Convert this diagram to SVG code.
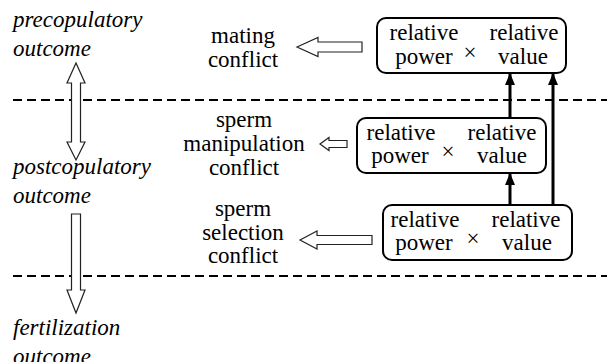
<svg xmlns="http://www.w3.org/2000/svg" id="d" width="607" height="362" viewBox="0 0 607 362">
<style>
svg#d text{font-family:"Liberation Serif","Times New Roman",serif !important;font-size:23px;fill:#000}
svg#d text.i{font-style:italic}
svg#d text.m{text-anchor:middle}
</style>
<defs>
<marker id="ah" markerUnits="userSpaceOnUse" markerWidth="12" markerHeight="10" refX="12" refY="5" orient="auto">
<path d="M0,0 L12,5 L0,10 z" fill="#000"/>
</marker>
</defs>
<rect width="607" height="362" fill="#fff"/>
<g id="dividers" stroke="#000" stroke-width="2" stroke-dasharray="9 5">
<line x1="13" y1="100" x2="607" y2="100"/>
<line x1="13" y1="276" x2="607" y2="276"/>
</g>
<g id="outcome-pre">
<text class="i" style="font-family:'Liberation Serif',serif !important" x="13" y="27">precopulatory</text>
<text class="i" style="font-family:'Liberation Serif',serif !important" x="13" y="56">outcome</text>
</g>
<g id="outcome-post">
<text class="i" style="font-family:'Liberation Serif',serif !important" x="13" y="174">postcopulatory</text>
<text class="i" style="font-family:'Liberation Serif',serif !important" x="13" y="203">outcome</text>
</g>
<g id="outcome-fert">
<text class="i" style="font-family:'Liberation Serif',serif !important" x="13" y="335">fertilization</text>
<text class="i" style="font-family:'Liberation Serif',serif !important" x="13" y="364">outcome</text>
</g>
<g id="label-mating">
<text class="m" style="font-family:'Liberation Serif',serif !important" x="243" y="43">mating</text>
<text class="m" style="font-family:'Liberation Serif',serif !important" x="243" y="67">conflict</text>
</g>
<g id="label-manip">
<text class="m" style="font-family:'Liberation Serif',serif !important" x="244" y="127">sperm</text>
<text class="m" style="font-family:'Liberation Serif',serif !important" x="244" y="151">manipulation</text>
<text class="m" style="font-family:'Liberation Serif',serif !important" x="244" y="175">conflict</text>
</g>
<g id="label-select">
<text class="m" style="font-family:'Liberation Serif',serif !important" x="243" y="216">sperm</text>
<text class="m" style="font-family:'Liberation Serif',serif !important" x="243" y="240">selection</text>
<text class="m" style="font-family:'Liberation Serif',serif !important" x="243" y="263">conflict</text>
</g>
<g id="box-top">
<rect x="377" y="18" width="189" height="55" rx="9" fill="#fff" stroke="#000" stroke-width="2"/>
<text class="m" style="font-family:'Liberation Serif',serif !important" x="424" y="40">relative</text>
<text class="m" style="font-family:'Liberation Serif',serif !important" x="424" y="64">power</text>
<text class="m" style="font-family:'Liberation Serif',serif !important" x="470" y="60">&#215;</text>
<text class="m" style="font-family:'Liberation Serif',serif !important" x="524" y="40">relative</text>
<text class="m" style="font-family:'Liberation Serif',serif !important" x="523" y="64">value</text>
</g>
<g id="box-mid">
<rect x="357" y="118" width="189" height="55" rx="9" fill="#fff" stroke="#000" stroke-width="2"/>
<text class="m" style="font-family:'Liberation Serif',serif !important" x="401" y="140">relative</text>
<text class="m" style="font-family:'Liberation Serif',serif !important" x="400" y="163">power</text>
<text class="m" style="font-family:'Liberation Serif',serif !important" x="448" y="159">&#215;</text>
<text class="m" style="font-family:'Liberation Serif',serif !important" x="502" y="140">relative</text>
<text class="m" style="font-family:'Liberation Serif',serif !important" x="502" y="163">value</text>
</g>
<g id="box-bot">
<rect x="383" y="205" width="189" height="55" rx="9" fill="#fff" stroke="#000" stroke-width="2"/>
<text class="m" style="font-family:'Liberation Serif',serif !important" x="425" y="227">relative</text>
<text class="m" style="font-family:'Liberation Serif',serif !important" x="424" y="250">power</text>
<text class="m" style="font-family:'Liberation Serif',serif !important" x="473" y="246">&#215;</text>
<text class="m" style="font-family:'Liberation Serif',serif !important" x="526" y="227">relative</text>
<text class="m" style="font-family:'Liberation Serif',serif !important" x="527" y="250">value</text>
</g>
<g id="connectors">
<g fill="#fff" stroke="#222" stroke-width="1.2">
<polygon points="297,47 318,37.5 318,42 362,42 362,52 318,52 318,56.5"/>
<polygon points="320,144 329,137.5 329,140.5 347,140.5 347,147.5 329,147.5 329,150.5"/>
<polygon points="300,240 317,231 317,235.5 372,235.5 372,244.5 317,244.5 317,249"/>
<polygon points="76,63 85,83 80.5,83 80.5,142 85,142 76,160 67,142 71.5,142 71.5,83 67,83"/>
<polygon points="71.5,214 80.5,214 80.5,290 85,290 76,313 67,290 71.5,290"/>
</g>
<g stroke="#000" stroke-width="3" fill="none">
<line x1="510" y1="118" x2="510" y2="73" marker-end="url(#ah)"/>
<line x1="553" y1="205" x2="553" y2="73" marker-end="url(#ah)"/>
<line x1="510" y1="205" x2="510" y2="173" marker-end="url(#ah)"/>
</g>
</g>
</svg>
